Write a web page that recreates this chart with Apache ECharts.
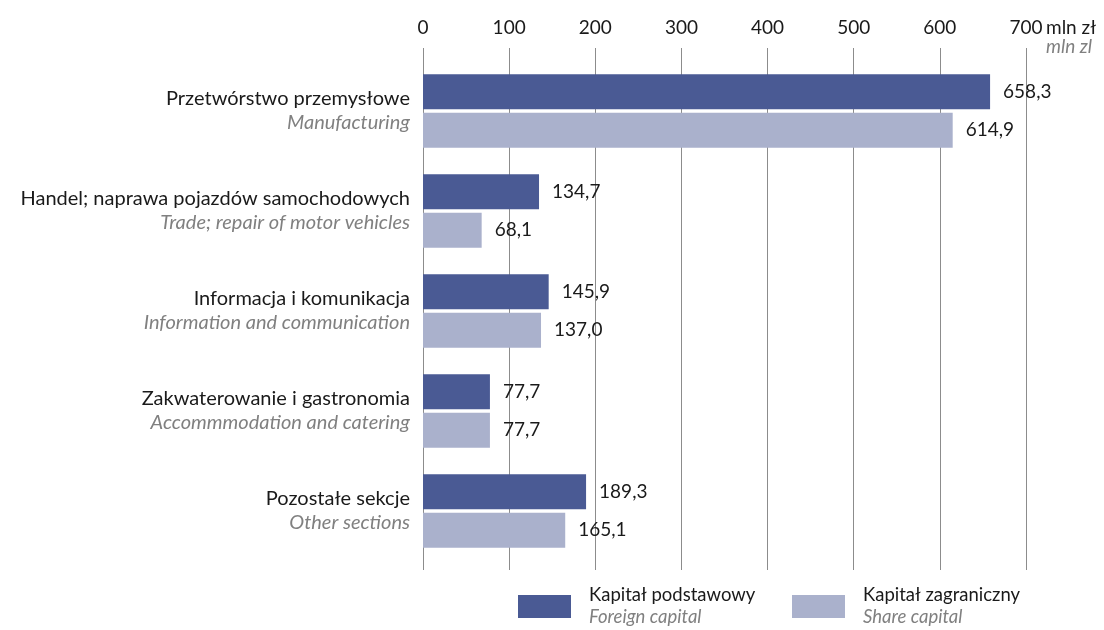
<!DOCTYPE html>
<html>
<head>
<meta charset="utf-8">
<script src="https://cdn.jsdelivr.net/npm/echarts@6/dist/echarts.min.js"></script>
<style>
  html, body { margin: 0; padding: 0; background: #fff; }
  #chart { width: 1104px; height: 630px; }
</style>
</head>
<body>
<div id="chart"></div>
<script>
// sekcje (PL / EN)
const categoriesPl = [
  'Przetwórstwo przemysłowe',
  'Handel; naprawa pojazdów samochodowych',
  'Informacja i komunikacja',
  'Zakwaterowanie i gastronomia',
  'Pozostałe sekcje',
];
const categoriesEn = [
  'Manufacturing',
  'Trade; repair of motor vehicles',
  'Information and communication',
  'Accommmodation and catering',
  'Other sections',
];

const seriesNames   = ['Kapitał podstawowy', 'Kapitał zagraniczny'];
const seriesNamesEn = ['Foreign capital', 'Share capital'];

// mln zł
const kapitalPodstawowy  = [658.3, 134.7, 145.9, 77.7, 189.3];
const kapitalZagraniczny = [614.9, 68.1, 137.0, 77.7, 165.1];

const FONT = 'Lato, "Noto Sans", sans-serif';
const DARK  = '#4a5a94';
const LIGHT = '#aab1cc';
const GRID_LINE = '#8c8c8c';

const fmt = v => v.toFixed(1).replace('.', ',');

const chart = echarts.init(document.getElementById('chart'), null, { renderer: 'canvas' });

const barLabel = {
  show: true,
  position: 'right',
  distance: 13,
  color: '#1a1a1a',
  fontFamily: FONT,
  fontSize: 19,
  formatter: p => fmt(p.value),
};

chart.setOption({
  backgroundColor: '#fff',
  animation: false,
  textStyle: { fontFamily: FONT },
  grid: [
    { left: 423, right: 78, top: 61, height: 500 },   // słupki
    { left: 423, right: 78, top: 48, height: 522 },   // siatka
  ],
  xAxis: [
    { gridIndex: 0, type: 'value', min: 0, max: 700, interval: 100, show: false },
    {
      gridIndex: 1, type: 'value', position: 'top', min: 0, max: 700, interval: 100,
      axisLine: { show: false },
      axisTick: { show: false },
      axisLabel: { color: '#1a1a1a', fontSize: 19, fontFamily: FONT, margin: 11 },
      splitLine: { show: true, lineStyle: { color: GRID_LINE, width: 1 } },
    },
  ],
  yAxis: [
    {
      gridIndex: 0, type: 'category', inverse: true, data: categoriesPl,
      axisLine: { show: false },
      axisTick: { show: false },
      axisLabel: {
        margin: 13,
        formatter: (v, i) => `{pl|${v}}\n{en|${categoriesEn[i]}}`,
        rich: {
          pl: { fontSize: 20, color: '#1a1a1a', fontFamily: FONT, lineHeight: 24, align: 'right' },
          en: { fontSize: 20, color: '#808080', fontFamily: FONT, fontStyle: 'italic', lineHeight: 24, align: 'right' },
        },
      },
    },
    { gridIndex: 1, type: 'value', min: 0, max: 1, show: false },
  ],
  legend: {
    left: 518, top: 586, padding: 0,
    itemWidth: 53, itemHeight: 23, itemGap: 18,
    icon: 'rect',
    data: seriesNames,
    formatter: name => `{a|${name}}\n{b|${seriesNamesEn[seriesNames.indexOf(name)]}}`,
    textStyle: {
      padding: [0, 0, 0, 13],
      rich: {
        a: { fontSize: 18.5, color: '#1a1a1a', fontFamily: FONT, lineHeight: 22, width: 185 },
        b: { fontSize: 18.5, color: '#808080', fontFamily: FONT, fontStyle: 'italic', lineHeight: 22, width: 185 },
      },
    },
  },
  graphic: [
    { type: 'text', left: 1046, top: 18,
      style: { text: 'mln zł', fontSize: 19, fontFamily: FONT, fill: '#1a1a1a' } },
    { type: 'text', left: 1046, top: 37,
      style: { text: 'mln zl', fontSize: 19, fontFamily: FONT, fontStyle: 'italic', fill: '#808080' } },
  ],
  series: [
    {
      name: seriesNames[0], type: 'bar', xAxisIndex: 0, yAxisIndex: 0,
      data: kapitalPodstawowy, barWidth: 35, barGap: '10%',
      itemStyle: { color: DARK }, label: barLabel,
    },
    {
      name: seriesNames[1], type: 'bar', xAxisIndex: 0, yAxisIndex: 0,
      data: kapitalZagraniczny, barWidth: 35, barGap: '10%',
      itemStyle: { color: LIGHT }, label: barLabel,
    },
  ],
});
</script>
</body>
</html>
